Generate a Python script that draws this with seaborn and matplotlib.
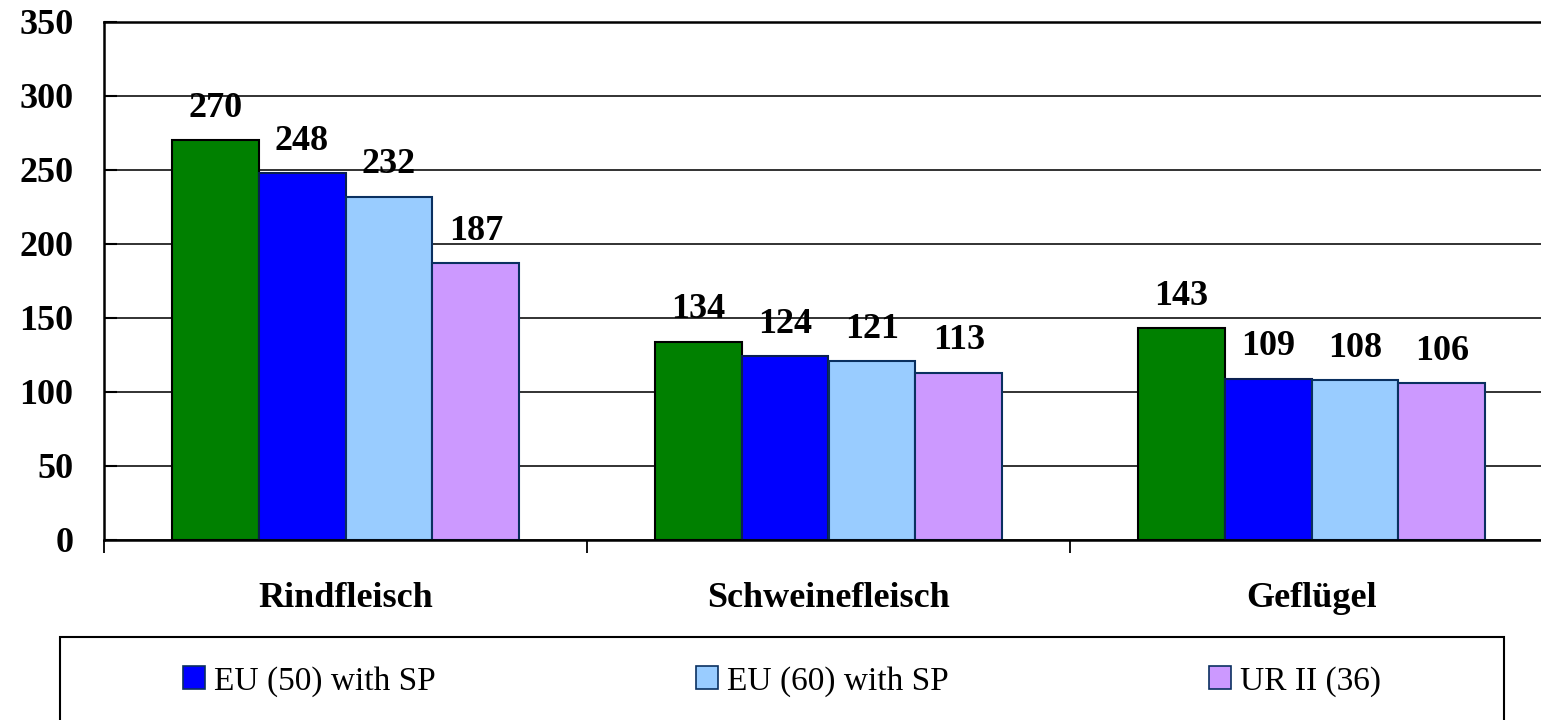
import pandas as pd
import numpy as np
import matplotlib
matplotlib.use('Agg')
import matplotlib.pyplot as plt
import matplotlib.patches as mpatches
import seaborn as sns

# daten
kategorien = ['Rindfleisch', 'Schweinefleisch', 'Geflügel']
serien = ['Basis', 'EU (50) with SP', 'EU (60) with SP', 'UR II (36)']
basis = [270, 134, 143]
eu50 = [248, 124, 109]
eu60 = [232, 121, 108]
ur2 = [187, 113, 106]
farben = ['#008000', '#0000FF', '#99CCFF', '#CC99FF']
y_ticks = [0, 50, 100, 150, 200, 250, 300, 350]

df = pd.DataFrame({
    'kategorie': kategorien * 4,
    'serie': np.repeat(serien, 3),
    'wert': basis + eu50 + eu60 + ur2,
})

sns.set_theme(style='white')
plt.rcParams['font.family'] = ['Liberation Serif', 'DejaVu Serif']
plt.rcParams['text.color'] = 'black'
plt.rcParams['xtick.color'] = 'black'
plt.rcParams['ytick.color'] = 'black'
plt.rcParams['axes.labelcolor'] = 'black'

fig = plt.figure(figsize=(15.41, 7.2), dpi=100)
ax = fig.add_axes([104 / 1541, 0.25, 1449 / 1541, 518 / 720])

sns.barplot(data=df, x='kategorie', y='wert', hue='serie', order=kategorien,
            hue_order=serien, palette=farben, width=0.72, saturation=1,
            ax=ax, legend=False)

kanten = ['#000000', '#0a2050', '#0a3060', '#0a3060']
for cont, kante in zip(ax.containers, kanten):
    for bar in cont:
        bar.set_edgecolor(kante)
        bar.set_linewidth(1.5)
    ax.bar_label(cont, fmt='%d', padding=11, fontsize=26, fontweight='bold',
                 color='black')

ax.set_xlim(-0.5, 2.5)
ax.set_ylim(0, 350)
ax.set_yticks(y_ticks)
ax.set_yticklabels([str(v) for v in y_ticks], fontsize=26, fontweight='bold')
ax.tick_params(axis='y', direction='in', length=9.5, width=1.5, pad=22,
               colors='black', left=True)
ax.yaxis.grid(True, color='#222222', linewidth=1.3)
ax.set_axisbelow(True)

ax.set_xticks(range(3))
ax.set_xticklabels(kategorien, fontsize=26, fontweight='bold')
ax.set_xticks([-0.5, 0.5, 1.5, 2.5], minor=True)
ax.tick_params(axis='x', which='major', length=0, pad=30, colors='black')
ax.tick_params(axis='x', which='minor', direction='out', length=9, width=1.3,
               color='black', bottom=True)
ax.set_xlabel('')
ax.set_ylabel('')

for s in ['left', 'bottom', 'top']:
    ax.spines[s].set_visible(True)
    ax.spines[s].set_color('black')
    ax.spines[s].set_linewidth(1.8)
ax.spines['right'].set_visible(False)

# legende (ohne die erste serie)
handles = [mpatches.Patch(facecolor=farben[i], edgecolor='#0a3060', linewidth=1.2,
                          label=serien[i]) for i in range(1, 4)]
leg = fig.legend(handles=handles, loc='center left', bbox_to_anchor=(183 / 1541, 0.054),
                 ncol=3, frameon=False, fontsize=24, borderpad=0, borderaxespad=0,
                 handlelength=0.66, handleheight=0.66, handletextpad=0.28,
                 columnspacing=7.8)
for t in leg.get_texts():
    t.set_color('black')

box = mpatches.Rectangle((60 / 1541, -0.05), 1444 / 1541, 0.05 + 83 / 720,
                         transform=fig.transFigure, fill=False, edgecolor='black',
                         linewidth=1.5)
fig.patches.append(box)

fig.savefig('out.png', dpi=100)
